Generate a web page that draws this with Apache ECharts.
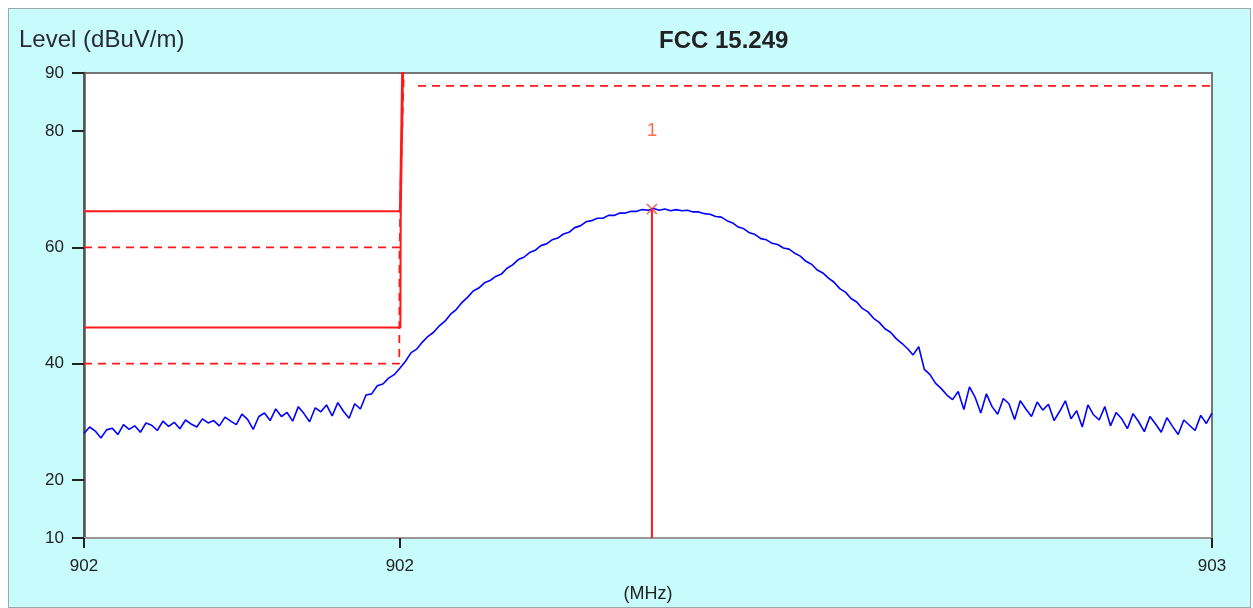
<!DOCTYPE html>
<html>
<head>
<meta charset="utf-8">
<script src="https://cdn.jsdelivr.net/npm/echarts@6/dist/echarts.min.js"></script>
<style>
  html, body { margin: 0; padding: 0; background: #ffffff; }
  #bg { position: absolute; left: 8px; top: 8px; width: 1241px; height: 598px; background: #c8fcfc; border: 1px solid #9aa; }
  #chart { position: absolute; left: 0; top: 0; width: 1253px; height: 608px; }
</style>
</head>
<body>
<div id="bg"></div>
<div id="chart"></div>
<script>
// ---- data ----
const SWEEP_START = 902.0;   // MHz
const SWEEP_STEP = 0.005;    // MHz per trace point
const level = [
  28.0,29.1,28.4,27.2,28.6,28.9,27.8,29.5,28.7,29.3,
  28.2,29.8,29.4,28.5,30.1,29.2,29.9,28.8,30.3,29.6,
  29.1,30.5,29.8,30.2,29.3,30.8,30.1,29.5,31.3,30.4,
  28.7,30.9,31.5,30.2,32.2,30.9,31.6,30.1,32.6,31.4,
  30.0,32.4,31.7,32.9,31.0,33.3,31.8,30.6,33.1,32.2,
  34.6,34.8,36.2,36.5,37.5,38.1,39.2,40.4,41.9,42.5,
  43.7,44.7,45.4,46.5,47.3,48.5,49.3,50.5,51.4,52.5,
  53.0,53.9,54.3,55.0,55.4,56.4,57.0,57.9,58.3,59.1,
  59.5,60.3,60.6,61.3,61.6,62.3,62.6,63.4,63.7,64.4,
  64.6,65.0,65.0,65.5,65.5,65.9,65.9,66.2,66.2,66.5,
  66.4,66.7,66.4,66.6,66.3,66.5,66.3,66.4,66.1,66.1,
  65.8,65.7,65.3,65.2,64.6,64.2,63.5,63.2,62.5,62.2,
  61.5,61.3,60.7,60.5,59.9,59.7,59.0,58.5,57.6,57.1,
  56.1,55.6,54.7,54.0,52.9,52.3,51.2,50.6,49.5,48.9,
  47.8,47.1,46.0,45.4,44.3,43.5,42.6,41.5,42.9,39.0,
  38.1,36.6,35.7,34.6,33.8,35.2,32.1,36.0,34.2,31.5,
  34.8,32.6,31.3,34.0,33.1,30.4,33.6,32.2,30.9,33.4,
  32.0,33.0,30.2,31.8,33.6,30.5,31.9,29.1,32.9,31.2,
  30.3,32.6,29.3,31.6,30.5,28.8,31.4,30.0,28.3,30.9,
  29.6,28.2,30.7,29.2,27.8,30.3,29.4,28.5,31.1,29.7,
  31.5
];
const freq = level.map((_, i) => +(SWEEP_START + SWEEP_STEP * i).toFixed(4));

// limit lines [MHz, dBuV/m]
const limitSolidLow  = [[902.0, 46.2], [902.2805, 46.2], [902.2808, 66.2], [902.2816, 76.0], [902.2830, 92.0]];
const limitSolidHigh = [[902.0, 66.2], [902.2801, 66.2], [902.2811, 78.0], [902.2822, 92.0]];
const limitDashLow   = [[902.0, 40.0], [902.2795, 40.0], [902.2797, 60.0]];
const limitDashHigh  = [[902.0, 60.0], [902.2799, 60.0], [902.2806, 70.0], [902.2838, 92.0]];
const limitDashBand  = [[902.2961, 87.8], [903.0, 87.8]];

// marker 1
const markerFreq = 902.5035;
const markerLevel = 66.6;
const markerLabelLevel = 80;
const markerName = '1';

// axes
const xMin = 902.0, xMax = 903.0;
const xTicks = [902.0, 902.28, 903.0];
const yMin = 10, yMax = 90;
const yTicks = [10, 20, 40, 60, 80, 90];

// ---- chart ----
const chart = echarts.init(document.getElementById('chart'), null, { renderer: 'canvas' });
const FONT = 'Liberation Sans, Arial, sans-serif';
const red = '#ff1a1a';

const option = {
  backgroundColor: 'transparent',
  animation: false,
  title: [
    { text: 'Level (dBuV/m)', left: 19, top: 28, padding: 0,
      textStyle: { fontFamily: FONT, fontSize: 24, fontWeight: 'normal', color: '#2a2a3a' } },
    { text: 'FCC 15.249', left: 659, top: 29, padding: 0,
      textStyle: { fontFamily: FONT, fontSize: 24, fontWeight: 'bold', color: '#222' } }
  ],
  grid: { left: 84, right: 41, top: 73, bottom: 67, show: true, backgroundColor: '#ffffff',
          borderColor: '#777', borderWidth: 2 },
  xAxis: {
    type: 'value', min: xMin, max: xMax,
    name: '(MHz)', nameLocation: 'middle', nameGap: 47,
    nameTextStyle: { fontFamily: FONT, fontSize: 18, color: '#222' },
    axisLine: { show: true, lineStyle: { color: '#999', width: 2 } },
    axisTick: { show: true, customValues: xTicks, length: 10, lineStyle: { color: '#222', width: 2 } },
    axisLabel: { customValues: xTicks, margin: 20, fontFamily: FONT, fontSize: 17, color: '#222',
                 formatter: v => v.toFixed(0) },
    splitLine: { show: false }
  },
  yAxis: {
    type: 'value', min: yMin, max: yMax, interval: 10,
    axisLine: { show: true, lineStyle: { color: '#555', width: 2.5 } },
    axisTick: { show: true, customValues: yTicks, length: 12, lineStyle: { color: '#222', width: 2 } },
    axisLabel: { customValues: yTicks, margin: 20, fontFamily: FONT, fontSize: 17, color: '#222' },
    splitLine: { show: false }
  },
  series: [
    { type: 'line', data: limitSolidLow, symbol: 'none', lineStyle: { color: red, width: 2 } },
    { type: 'line', data: limitSolidHigh, symbol: 'none', lineStyle: { color: red, width: 2 } },
    { type: 'line', data: limitDashLow, symbol: 'none', lineStyle: { color: red, width: 1.8, type: [8, 6] } },
    { type: 'line', data: limitDashHigh, symbol: 'none', lineStyle: { color: red, width: 1.8, type: [8, 6] } },
    { type: 'line', data: limitDashBand, symbol: 'none', lineStyle: { color: red, width: 1.8, type: [8, 6] } },
    { type: 'line', data: freq.map((f, i) => [f, level[i]]), symbol: 'none',
      lineStyle: { color: '#0000ff', width: 1.6 }, z: 3 },
    { type: 'line', data: [[markerFreq, yMin], [markerFreq, markerLevel]], symbol: 'none',
      lineStyle: { color: red, width: 2 }, z: 4 },
    { type: 'scatter', data: [[markerFreq, markerLevel]], z: 5,
      symbol: 'path://M0,1 L1,0 L5,4 L9,0 L10,1 L6,5 L10,9 L9,10 L5,6 L1,10 L0,9 L4,5 Z',
      symbolSize: 11, itemStyle: { color: '#ff3030' } },
    { type: 'scatter', data: [[markerFreq, markerLabelLevel]], symbolSize: 0, z: 5,
      label: { show: true, position: 'inside', formatter: markerName, fontFamily: FONT,
               fontSize: 19, color: '#ff4a1a' } }
  ]
};
chart.setOption(option);
</script>
</body>
</html>
